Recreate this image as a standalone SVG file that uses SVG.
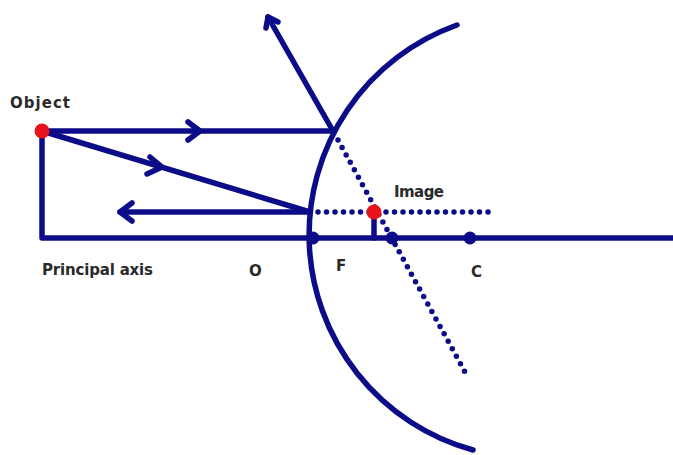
<svg xmlns="http://www.w3.org/2000/svg" width="673" height="455" viewBox="0 0 673 455">
<style>
.ln{stroke:#0c0c88;stroke-width:5.5;fill:none;stroke-linecap:round;stroke-linejoin:round}
.dot{stroke:#0c0c88;stroke-width:5.5;fill:none;stroke-linecap:round;stroke-dasharray:0 8.5}
.pt{fill:#0c0c88}
.red{fill:#e8141b}
.lbl{font-family:"DejaVu Sans",sans-serif;font-size:15px;font-weight:bold;fill:#2a2a2a}
</style>
<rect width="673" height="455" fill="#fff"/>
<g id="connectors">
<path class="ln" d="M42,131 V238 H673"/>
<path class="ln" d="M42,131 H333"/>
<path class="ln" d="M188,122 L200,131 L188,140"/>
<path class="ln" d="M42,131 L310,212"/>
<path class="ln" d="M150,157 L162,167 L147,174"/>
<path class="ln" d="M310,212 H120"/>
<path class="ln" d="M132,203 L120,212 L132,221"/>
<path class="ln" d="M333,131 L268,17"/>
<path class="ln" d="M266,28 L268,17 L278,22"/>
<path class="dot" d="M338,140 L465,372"/>
<path class="dot" d="M318,212 H490"/>
<path class="ln" d="M374,212 V238"/>
</g>
<g id="mirror"><path class="ln" d="M457,25 A223,223 0 0 0 473,450"/></g>
<g id="points">
<circle class="pt" cx="313" cy="238" r="6.5"/>
<circle class="pt" cx="392" cy="238" r="6.5"/>
<circle class="pt" cx="470" cy="238" r="6.5"/>
</g>
<g id="object"><circle class="red" cx="42" cy="131" r="7.5"/><text class="lbl" x="10" y="108" textLength="60">Object</text></g>
<g id="image"><circle class="red" cx="374" cy="212" r="7.5"/><text class="lbl" x="394" y="197" textLength="50">Image</text></g>
<g id="labels">
<text class="lbl" x="42" y="275" textLength="111">Principal axis</text>
<text class="lbl" x="249" y="276">O</text>
<text class="lbl" x="336" y="271">F</text>
<text class="lbl" x="471" y="277">C</text>
</g>
</svg>
